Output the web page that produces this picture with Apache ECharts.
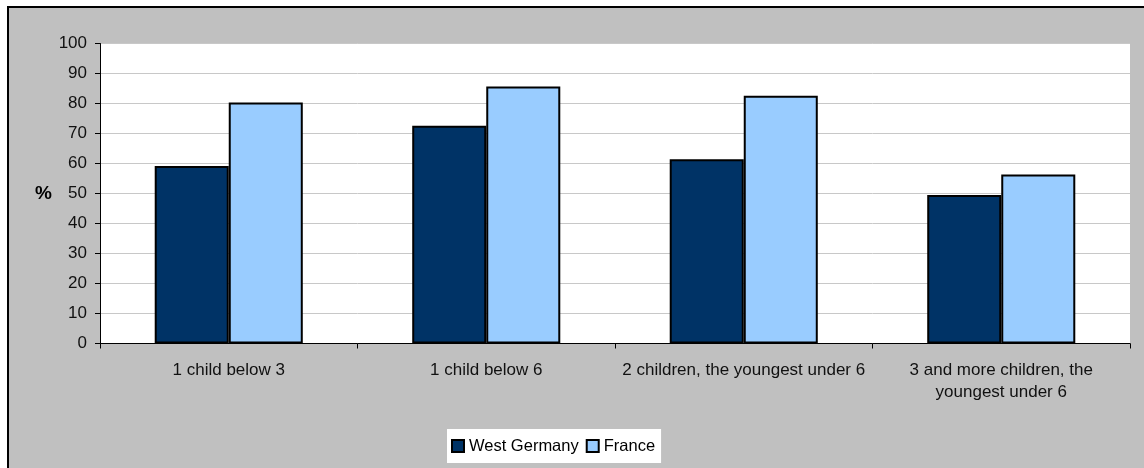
<!DOCTYPE html>
<html>
<head>
<meta charset="utf-8">
<script src="https://cdn.jsdelivr.net/npm/echarts@6/dist/echarts.min.js"></script>
<style>
  html, body { margin: 0; padding: 0; background: #ffffff; }
  #chart { width: 1144px; height: 468px; }
</style>
</head>
<body>
<div id="chart"></div>
<script>
// Household categories by number and age of children
const categories = [
  '1 child below 3',
  '1 child below 6',
  '2 children, the youngest under 6',
  '3 and more children, the\nyoungest under 6'
];
// Shares in percent
const westGermany = [59.2, 72.6, 61.4, 49.5];
const france = [80.3, 85.7, 82.6, 56.3];
const seriesNames = ['West Germany', 'France'];
const yTicks = { min: 0, max: 100, interval: 10 };

const chart = echarts.init(document.getElementById('chart'), null, { renderer: 'canvas' });
const font = 'Liberation Sans, Arial, sans-serif';

chart.setOption({
  animation: false,
  backgroundColor: '#ffffff',
  graphic: [{
    type: 'rect',
    z: -10,
    silent: true,
    shape: { x: 8, y: 7, width: 1200, height: 500 },
    style: { fill: '#c0c0c0', stroke: '#000000', lineWidth: 2 }
  }],
  grid: {
    left: 100, right: 14, top: 43.5, bottom: 124.5,
    show: true, backgroundColor: '#ffffff', borderWidth: 0
  },
  legend: {
    left: 447, top: 429,
    orient: 'horizontal',
    padding: [8, 6, 8, 4],
    backgroundColor: '#ffffff',
    itemWidth: 12, itemHeight: 12, itemGap: 7,
    icon: 'rect',
    textStyle: { fontFamily: font, fontSize: 16.5, lineHeight: 18, color: '#000000' },
    data: seriesNames
  },
  xAxis: {
    type: 'category',
    data: categories,
    axisLine: { lineStyle: { color: '#000000', width: 1 } },
    axisTick: { show: true, length: 5, lineStyle: { color: '#000000' } },
    axisLabel: {
      color: '#111111', fontFamily: font, fontSize: 17, margin: 16,
      lineHeight: 22, interval: 0
    }
  },
  yAxis: {
    type: 'value',
    min: yTicks.min, max: yTicks.max, interval: yTicks.interval,
    name: '%',
    nameLocation: 'middle',
    nameRotate: 0,
    nameGap: 48,
    nameTextStyle: { fontFamily: font, fontSize: 19, fontWeight: 'bold', color: '#000000' },
    axisLine: { show: true, lineStyle: { color: '#000000', width: 1 } },
    axisTick: { show: true, length: 5, lineStyle: { color: '#000000' } },
    axisLabel: { color: '#111111', fontFamily: font, fontSize: 17, margin: 13 },
    splitLine: { lineStyle: { color: '#c8c8c8', width: 1 } }
  },
  series: [
    {
      name: seriesNames[0],
      type: 'bar',
      data: westGermany,
      barGap: '0%',
      barCategoryGap: '42.5%',
      itemStyle: { color: '#003366', borderColor: '#000000', borderWidth: 2 }
    },
    {
      name: seriesNames[1],
      type: 'bar',
      data: france,
      barGap: '0%',
      barCategoryGap: '42.5%',
      itemStyle: { color: '#99ccff', borderColor: '#000000', borderWidth: 2 }
    }
  ]
});
</script>
</body>
</html>
